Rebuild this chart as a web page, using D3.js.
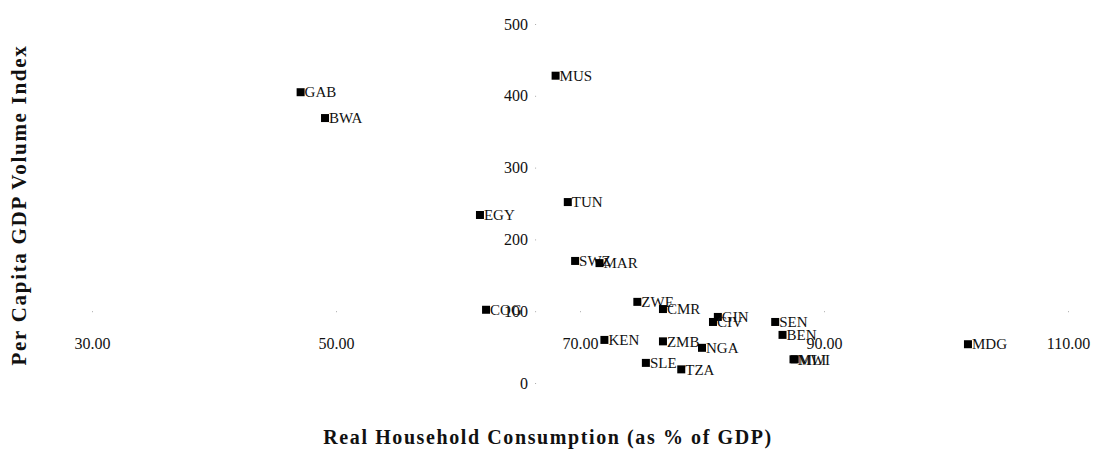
<!DOCTYPE html>
<html>
<head>
<meta charset="utf-8">
<script src="https://cdn.jsdelivr.net/npm/d3@7"></script>
<style>
  body { margin: 0; background: #fff; }
  svg text { font-family: "Liberation Serif", "Times New Roman", serif; fill: #111; }
  .tick line { stroke: #aaa; }
  .domain { display: none; }
</style>
</head>
<body>
<svg id="chart" width="1099" height="450"></svg>
<script>
// country codes, consumption (% of GDP), per capita GDP volume index
const paises = ['GAB', 'BWA', 'MUS', 'EGY', 'TUN', 'SWZ', 'MAR', 'COG', 'ZWE', 'CMR', 'GIN',
                'CIV', 'SEN', 'BEN', 'MWI', 'MLI', 'KEN', 'ZMB', 'NGA', 'SLE', 'TZA', 'MDG']
const consumo = [47.1, 49.1, 68.0, 61.8, 69.0, 69.6, 71.6, 62.3, 74.7, 76.8, 81.3,
                 80.9, 86.0, 86.6, 87.5, 87.6, 72.0, 76.8, 80.0, 75.4, 78.3, 101.8]
const indice = [405, 369, 428, 234, 252, 170, 167, 102, 113, 103, 92,
                85, 85, 67, 33, 33, 60, 58, 49, 28, 19, 54]

const xTicks = [30, 50, 70, 90, 110]
const yTicks = [0, 100, 200, 300, 400, 500]
const xCruce = 66.4   // where the vertical axis sits
const yCruce = 100    // where the horizontal axis sits

const svg = d3.select('#chart')

const x = d3.scaleLinear().domain([30, 110]).range([92, 1068])
const y = d3.scaleLinear().domain([0, 500]).range([383, 24])

const puntos = paises.map((p, i) => ({ nombre: p, x: consumo[i], y: indice[i] }))

// horizontal axis at y = 100
svg.append('g')
    .attr('transform', `translate(0,${y(yCruce)})`)
    .call(d3.axisBottom(x).tickValues(xTicks).tickSize(1).tickPadding(25)
        .tickFormat(d3.format('.2f')))
    .call(g => g.selectAll('text').attr('font-size', 16))

// vertical axis at x = 66.4
svg.append('g')
    .attr('transform', `translate(${x(xCruce)},0)`)
    .call(d3.axisLeft(y).tickValues(yTicks).tickSize(1).tickPadding(7))
    .call(g => g.selectAll('text').attr('font-size', 16))

const marcas = svg.append('g')
    .selectAll('g')
    .data(puntos)
    .enter().append('g')
    .attr('transform', d => `translate(${x(d.x)},${y(d.y)})`)

marcas.append('rect')
    .attr('x', -4).attr('y', -4)
    .attr('width', 8).attr('height', 8)
    .attr('fill', '#000')

marcas.append('text')
    .attr('x', 4)
    .attr('dy', '0.35em')
    .attr('font-size', 15)
    .text(d => d.nombre)

// axis titles
svg.append('text')
    .attr('x', x(xCruce) + 12)
    .attr('y', 444)
    .attr('text-anchor', 'middle')
    .attr('font-size', 20)
    .attr('letter-spacing', 1.6)
    .attr('font-weight', 'bold')
    .text('Real Household Consumption (as % of GDP)')

svg.append('text')
    .attr('transform', 'translate(26,205) rotate(-90)')
    .attr('text-anchor', 'middle')
    .attr('font-size', 21)
    .attr('letter-spacing', 1.7)
    .attr('font-weight', 'bold')
    .text('Per Capita GDP Volume Index')
</script>
</body>
</html>
